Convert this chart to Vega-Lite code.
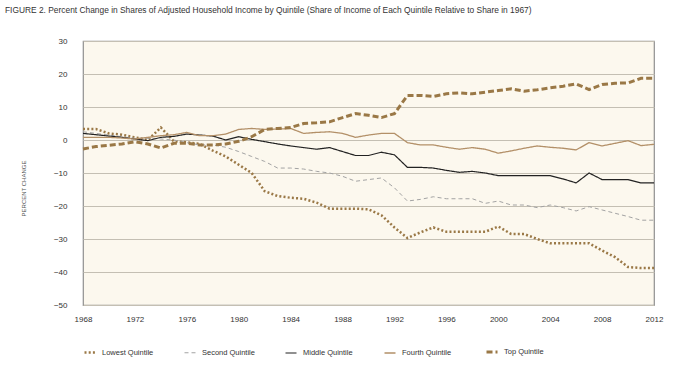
{
  "$schema": "https://vega.github.io/schema/vega-lite/v6.json",
  "autosize": {"type": "none"},
  "padding": {"left": 83, "top": 41, "right": 46, "bottom": 68},
  "width": 571,
  "height": 264,
  "background": "white",
  "title": {
    "text": "FIGURE 2.  Percent Change in Shares of Adjusted Household Income by Quintile (Share of Income of Each Quintile Relative to Share in 1967)",
    "anchor": "start",
    "frame": "group",
    "dx": -78,
    "offset": 23,
    "fontSize": 8.4,
    "fontWeight": "normal",
    "font": "Liberation Sans",
    "color": "#333333"
  },
  "data": {
    "values": [
      {"year": 1968, "Lowest Quintile": 3.3, "Second Quintile": 2.5, "Middle Quintile": 2.0, "Fourth Quintile": 0.8, "Top Quintile": -2.7},
      {"year": 1969, "Lowest Quintile": 3.3, "Second Quintile": 2.0, "Middle Quintile": 1.6, "Fourth Quintile": 0.8, "Top Quintile": -2.0},
      {"year": 1970, "Lowest Quintile": 2.0, "Second Quintile": 1.5, "Middle Quintile": 1.2, "Fourth Quintile": 0.8, "Top Quintile": -1.6},
      {"year": 1971, "Lowest Quintile": 1.6, "Second Quintile": 1.0, "Middle Quintile": 0.8, "Fourth Quintile": 0.6, "Top Quintile": -1.2},
      {"year": 1972, "Lowest Quintile": 0.8, "Second Quintile": 0.5, "Middle Quintile": 0.3, "Fourth Quintile": 0.3, "Top Quintile": -0.5},
      {"year": 1973, "Lowest Quintile": 0.0, "Second Quintile": 0.5, "Middle Quintile": -0.2, "Fourth Quintile": 0.8, "Top Quintile": -1.2},
      {"year": 1974, "Lowest Quintile": 3.8, "Second Quintile": 0.3, "Middle Quintile": 0.8, "Fourth Quintile": 1.3, "Top Quintile": -2.4},
      {"year": 1975, "Lowest Quintile": -0.4, "Second Quintile": 0.0, "Middle Quintile": 1.1, "Fourth Quintile": 1.6, "Top Quintile": -1.0},
      {"year": 1976, "Lowest Quintile": -0.7, "Second Quintile": -0.8, "Middle Quintile": 1.8, "Fourth Quintile": 2.3, "Top Quintile": -1.0},
      {"year": 1977, "Lowest Quintile": -1.2, "Second Quintile": -1.5, "Middle Quintile": 1.5, "Fourth Quintile": 1.3, "Top Quintile": -1.5},
      {"year": 1978, "Lowest Quintile": -3.2, "Second Quintile": -1.5, "Middle Quintile": 1.2, "Fourth Quintile": 1.3, "Top Quintile": -1.5},
      {"year": 1979, "Lowest Quintile": -5.0, "Second Quintile": -2.2, "Middle Quintile": 0.0, "Fourth Quintile": 1.8, "Top Quintile": -1.2},
      {"year": 1980, "Lowest Quintile": -7.5, "Second Quintile": -3.5, "Middle Quintile": 1.0, "Fourth Quintile": 3.2, "Top Quintile": -0.4},
      {"year": 1981, "Lowest Quintile": -10.0, "Second Quintile": -5.0, "Middle Quintile": 0.2, "Fourth Quintile": 3.5, "Top Quintile": 1.0},
      {"year": 1982, "Lowest Quintile": -15.5, "Second Quintile": -6.5, "Middle Quintile": -0.5, "Fourth Quintile": 3.2, "Top Quintile": 3.2},
      {"year": 1983, "Lowest Quintile": -17.0, "Second Quintile": -8.5, "Middle Quintile": -1.2, "Fourth Quintile": 3.3, "Top Quintile": 3.5},
      {"year": 1984, "Lowest Quintile": -17.5, "Second Quintile": -8.5, "Middle Quintile": -1.8, "Fourth Quintile": 3.5, "Top Quintile": 3.8},
      {"year": 1985, "Lowest Quintile": -17.8, "Second Quintile": -8.8, "Middle Quintile": -2.3, "Fourth Quintile": 2.0, "Top Quintile": 5.0},
      {"year": 1986, "Lowest Quintile": -19.0, "Second Quintile": -9.5, "Middle Quintile": -2.8, "Fourth Quintile": 2.3, "Top Quintile": 5.2},
      {"year": 1987, "Lowest Quintile": -20.8, "Second Quintile": -10.0, "Middle Quintile": -2.3, "Fourth Quintile": 2.5, "Top Quintile": 5.5},
      {"year": 1988, "Lowest Quintile": -20.8, "Second Quintile": -11.0, "Middle Quintile": -3.5, "Fourth Quintile": 2.0, "Top Quintile": 6.8},
      {"year": 1989, "Lowest Quintile": -20.8, "Second Quintile": -12.5, "Middle Quintile": -4.7, "Fourth Quintile": 0.8, "Top Quintile": 8.0},
      {"year": 1990, "Lowest Quintile": -21.0, "Second Quintile": -12.0, "Middle Quintile": -4.7, "Fourth Quintile": 1.5, "Top Quintile": 7.5},
      {"year": 1991, "Lowest Quintile": -22.8, "Second Quintile": -11.5, "Middle Quintile": -3.7, "Fourth Quintile": 2.0, "Top Quintile": 6.8},
      {"year": 1992, "Lowest Quintile": -26.5, "Second Quintile": -14.5, "Middle Quintile": -4.5, "Fourth Quintile": 2.0, "Top Quintile": 8.0},
      {"year": 1993, "Lowest Quintile": -29.7, "Second Quintile": -18.5, "Middle Quintile": -8.3, "Fourth Quintile": -0.8, "Top Quintile": 13.5},
      {"year": 1994, "Lowest Quintile": -28.0, "Second Quintile": -18.0, "Middle Quintile": -8.3, "Fourth Quintile": -1.5, "Top Quintile": 13.5},
      {"year": 1995, "Lowest Quintile": -26.5, "Second Quintile": -17.2, "Middle Quintile": -8.5, "Fourth Quintile": -1.5, "Top Quintile": 13.2},
      {"year": 1996, "Lowest Quintile": -27.8, "Second Quintile": -17.8, "Middle Quintile": -9.2, "Fourth Quintile": -2.2, "Top Quintile": 14.0},
      {"year": 1997, "Lowest Quintile": -27.8, "Second Quintile": -17.8, "Middle Quintile": -9.8, "Fourth Quintile": -2.8, "Top Quintile": 14.3},
      {"year": 1998, "Lowest Quintile": -27.8, "Second Quintile": -17.8, "Middle Quintile": -9.5, "Fourth Quintile": -2.3, "Top Quintile": 14.0},
      {"year": 1999, "Lowest Quintile": -27.8, "Second Quintile": -19.2, "Middle Quintile": -10.0, "Fourth Quintile": -2.8, "Top Quintile": 14.5},
      {"year": 2000, "Lowest Quintile": -26.2, "Second Quintile": -18.5, "Middle Quintile": -10.8, "Fourth Quintile": -4.0, "Top Quintile": 15.0},
      {"year": 2001, "Lowest Quintile": -28.5, "Second Quintile": -19.7, "Middle Quintile": -10.8, "Fourth Quintile": -3.3, "Top Quintile": 15.5},
      {"year": 2002, "Lowest Quintile": -28.5, "Second Quintile": -19.7, "Middle Quintile": -10.8, "Fourth Quintile": -2.5, "Top Quintile": 14.8},
      {"year": 2003, "Lowest Quintile": -30.0, "Second Quintile": -20.5, "Middle Quintile": -10.8, "Fourth Quintile": -1.8, "Top Quintile": 15.2},
      {"year": 2004, "Lowest Quintile": -31.3, "Second Quintile": -19.7, "Middle Quintile": -10.8, "Fourth Quintile": -2.2, "Top Quintile": 15.8},
      {"year": 2005, "Lowest Quintile": -31.3, "Second Quintile": -20.5, "Middle Quintile": -11.8, "Fourth Quintile": -2.5, "Top Quintile": 16.3},
      {"year": 2006, "Lowest Quintile": -31.3, "Second Quintile": -21.5, "Middle Quintile": -13.0, "Fourth Quintile": -3.0, "Top Quintile": 17.0},
      {"year": 2007, "Lowest Quintile": -31.3, "Second Quintile": -20.2, "Middle Quintile": -10.0, "Fourth Quintile": -0.8, "Top Quintile": 15.3},
      {"year": 2008, "Lowest Quintile": -33.5, "Second Quintile": -21.2, "Middle Quintile": -12.0, "Fourth Quintile": -1.8, "Top Quintile": 16.8},
      {"year": 2009, "Lowest Quintile": -35.5, "Second Quintile": -22.2, "Middle Quintile": -12.0, "Fourth Quintile": -1.0, "Top Quintile": 17.2},
      {"year": 2010, "Lowest Quintile": -38.5, "Second Quintile": -23.2, "Middle Quintile": -12.0, "Fourth Quintile": -0.2, "Top Quintile": 17.3},
      {"year": 2011, "Lowest Quintile": -38.8, "Second Quintile": -24.3, "Middle Quintile": -13.0, "Fourth Quintile": -1.7, "Top Quintile": 18.7},
      {"year": 2012, "Lowest Quintile": -38.8, "Second Quintile": -24.3, "Middle Quintile": -13.0, "Fourth Quintile": -1.3, "Top Quintile": 18.7}
    ]
  },
  "transform": [
    {"fold": ["Lowest Quintile", "Second Quintile", "Middle Quintile", "Fourth Quintile", "Top Quintile"], "as": ["quintile", "change"]}
  ],
  "mark": {"type": "line", "interpolate": "linear"},
  "encoding": {
    "x": {
      "field": "year",
      "type": "quantitative",
      "scale": {"domain": [1968, 2012], "nice": false, "zero": false},
      "axis": {
        "title": null,
        "values": [1968, 1972, 1976, 1980, 1984, 1988, 1992, 1996, 2000, 2004, 2008, 2012],
        "format": "d",
        "grid": false,
        "ticks": false,
        "domain": false,
        "labelPadding": 10,
        "labelFontSize": 8,
        "labelFont": "Liberation Sans",
        "labelColor": "#333333",
        "labelFlush": false
      }
    },
    "y": {
      "field": "change",
      "type": "quantitative",
      "scale": {"domain": [-50, 30], "nice": false, "zero": false},
      "axis": {
        "title": "PERCENT CHANGE",
        "titleFontSize": 6,
        "titleFont": "Liberation Sans",
        "titleFontWeight": "normal",
        "titleColor": "#555555",
        "titleX": -60,
        "titleY": 147,
        "titleAngle": -90,
        "titleAlign": "center",
        "titleBaseline": "middle",
        "values": [-50, -40, -30, -20, -10, 0, 10, 20, 30],
        "grid": true,
        "gridColor": "#c4bfb3",
        "gridWidth": 1.2,
        "ticks": false,
        "domain": false,
        "labelPadding": 16,
        "labelFontSize": 8,
        "labelFont": "Liberation Sans",
        "labelColor": "#333333",
        "labelFlush": false
      }
    },
    "color": {
      "field": "quintile",
      "type": "nominal",
      "scale": {
        "domain": ["Lowest Quintile", "Second Quintile", "Middle Quintile", "Fourth Quintile", "Top Quintile"],
        "range": ["#9a7846", "#a3a3a3", "#222222", "#b39068", "#9a7846"]
      },
      "legend": {
        "title": null,
        "orient": "bottom",
        "direction": "horizontal",
        "columns": 5,
        "columnPadding": 28,
        "symbolType": "stroke",
        "symbolSize": 121,
        "labelOffset": 5,
        "labelFontSize": 7.5,
        "labelFont": "Liberation Sans",
        "labelColor": "#333333",
        "offset": 22,
        "padding": 0
      }
    },
    "strokeDash": {
      "field": "quintile",
      "type": "nominal",
      "scale": {
        "domain": ["Lowest Quintile", "Second Quintile", "Middle Quintile", "Fourth Quintile", "Top Quintile"],
        "range": [[2, 2.2], [4, 3], [1, 0], [1, 0], [6, 3]]
      },
      "legend": {
        "title": null,
        "orient": "bottom",
        "direction": "horizontal",
        "columns": 5,
        "columnPadding": 28,
        "symbolType": "stroke",
        "symbolSize": 121,
        "labelOffset": 5,
        "labelFontSize": 7.5,
        "labelFont": "Liberation Sans",
        "labelColor": "#333333",
        "offset": 22,
        "padding": 0
      }
    },
    "strokeWidth": {
      "field": "quintile",
      "type": "nominal",
      "scale": {
        "type": "ordinal",
        "domain": ["Lowest Quintile", "Second Quintile", "Middle Quintile", "Fourth Quintile", "Top Quintile"],
        "range": [2.5, 1, 1.2, 1.3, 3]
      },
      "legend": {
        "title": null,
        "orient": "bottom",
        "direction": "horizontal",
        "columns": 5,
        "columnPadding": 28,
        "symbolType": "stroke",
        "symbolSize": 121,
        "labelOffset": 5,
        "labelFontSize": 7.5,
        "labelFont": "Liberation Sans",
        "labelColor": "#333333",
        "offset": 22,
        "padding": 0
      }
    }
  },
  "config": {
    "view": {"fill": "#fcf8ee", "stroke": "#8f8f8f", "strokeWidth": 1.2}
  }
}
